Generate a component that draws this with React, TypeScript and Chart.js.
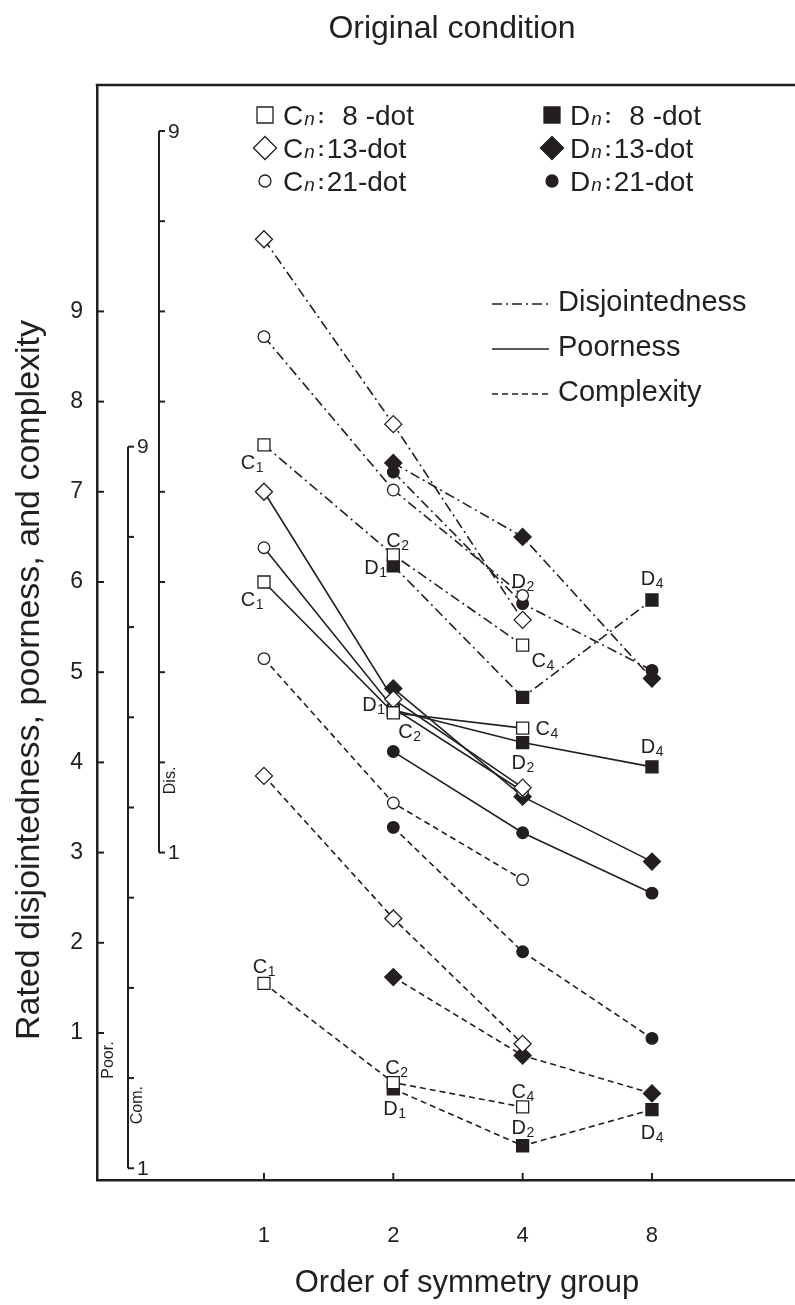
import React, { useEffect, useRef } from 'react';
import { Chart, registerables } from 'chart.js';

Chart.register(...registerables);

const INK = '#231f20';
const FONT = '"Liberation Sans", Arial, Helvetica, sans-serif';

// Categories (order of symmetry group)
const groupLabels = ['1', '2', '4', '8'];
const cGroupIdx = [0, 1, 2]; // C1, C2, C4
const dGroupIdx = [1, 2, 3]; // D1, D2, D4
const yTickValues = [1, 2, 3, 4, 5, 6, 7, 8, 9];

// Disjointedness (plotted on main axis units)
const disC8 = [7.52, 6.3, 5.3];
const disC13 = [9.8, 7.75, 5.58];
const disC21 = [8.72, 7.02, 5.85];
const disD8 = [6.18, 4.72, 5.8];
const disD13 = [7.32, 6.5, 4.93];
const disD21 = [7.22, 5.76, 5.02];

// Poorness
const poorC8 = [6.0, 4.55, 4.38];
const poorC13 = [7.0, 4.7, 3.72];
const poorC21 = [6.38, 4.6, 3.68];
const poorD8 = [4.58, 4.22, 3.95];
const poorD13 = [4.82, 3.62, 2.9];
const poorD21 = [4.12, 3.22, 2.55];

// Complexity
const comC8 = [1.55, 0.45, 0.18];
const comC13 = [3.85, 2.27, 0.88];
const comC21 = [5.15, 3.55, 2.7];
const comD8 = [0.38, -0.25, 0.15];
const comD13 = [1.62, 0.75, 0.33];
const comD21 = [3.28, 1.9, 0.94];

type Shape = 'square' | 'diamond' | 'circle';
interface Series { key: string; measure: 'dis' | 'poor' | 'com'; family: 'C' | 'D'; shape: Shape; values: number[] }

const seriesList: Series[] = [
  { key: 'disC8', measure: 'dis', family: 'C', shape: 'square', values: disC8 },
  { key: 'disC13', measure: 'dis', family: 'C', shape: 'diamond', values: disC13 },
  { key: 'disC21', measure: 'dis', family: 'C', shape: 'circle', values: disC21 },
  { key: 'disD8', measure: 'dis', family: 'D', shape: 'square', values: disD8 },
  { key: 'disD13', measure: 'dis', family: 'D', shape: 'diamond', values: disD13 },
  { key: 'disD21', measure: 'dis', family: 'D', shape: 'circle', values: disD21 },
  { key: 'poorC8', measure: 'poor', family: 'C', shape: 'square', values: poorC8 },
  { key: 'poorC13', measure: 'poor', family: 'C', shape: 'diamond', values: poorC13 },
  { key: 'poorC21', measure: 'poor', family: 'C', shape: 'circle', values: poorC21 },
  { key: 'poorD8', measure: 'poor', family: 'D', shape: 'square', values: poorD8 },
  { key: 'poorD13', measure: 'poor', family: 'D', shape: 'diamond', values: poorD13 },
  { key: 'poorD21', measure: 'poor', family: 'D', shape: 'circle', values: poorD21 },
  { key: 'comC8', measure: 'com', family: 'C', shape: 'square', values: comC8 },
  { key: 'comC13', measure: 'com', family: 'C', shape: 'diamond', values: comC13 },
  { key: 'comC21', measure: 'com', family: 'C', shape: 'circle', values: comC21 },
  { key: 'comD8', measure: 'com', family: 'D', shape: 'square', values: comD8 },
  { key: 'comD13', measure: 'com', family: 'D', shape: 'diamond', values: comD13 },
  { key: 'comD21', measure: 'com', family: 'D', shape: 'circle', values: comD21 },
];

const dashFor: Record<string, number[]> = { dis: [10, 4, 2, 4], poor: [], com: [6, 4] };
const pointStyleFor: Record<Shape, string> = { square: 'rect', diamond: 'rectRot', circle: 'circle' };
const radiusFor: Record<Shape, number> = { square: 8.5, diamond: 8.5, circle: 5.8 };

// Group labels attached to points (series key, point index, letter, subscript, offset)
const pointLabels = [
  { series: 'disC8', i: 0, t: 'C', s: '1', dx: -12, dy: 17 },
  { series: 'disC8', i: 1, t: 'C', s: '2', dx: 4, dy: -15 },
  { series: 'disD8', i: 0, t: 'D', s: '1', dx: -18, dy: 1 },
  { series: 'disC21', i: 2, t: 'D', s: '2', dx: 0, dy: -15 },
  { series: 'disC8', i: 2, t: 'C', s: '4', dx: 20, dy: 15 },
  { series: 'disD8', i: 2, t: 'D', s: '4', dx: 0, dy: -22 },
  { series: 'poorC8', i: 0, t: 'C', s: '1', dx: -12, dy: 17 },
  { series: 'poorD8', i: 0, t: 'D', s: '1', dx: -20, dy: -6 },
  { series: 'poorC8', i: 1, t: 'C', s: '2', dx: 16, dy: 18 },
  { series: 'poorC8', i: 2, t: 'C', s: '4', dx: 24, dy: 0 },
  { series: 'poorD8', i: 1, t: 'D', s: '2', dx: 0, dy: 19 },
  { series: 'poorD8', i: 2, t: 'D', s: '4', dx: 0, dy: -21 },
  { series: 'comC8', i: 0, t: 'C', s: '1', dx: 0, dy: -17 },
  { series: 'comC8', i: 1, t: 'C', s: '2', dx: 3, dy: -16 },
  { series: 'comD8', i: 0, t: 'D', s: '1', dx: 1, dy: 19 },
  { series: 'comC8', i: 2, t: 'C', s: '4', dx: 0, dy: -16 },
  { series: 'comD8', i: 1, t: 'D', s: '2', dx: 0, dy: -19 },
  { series: 'comD8', i: 2, t: 'D', s: '4', dx: 0, dy: 22 },
];

const markerLegend = [
  { family: 'C', shape: 'square' as Shape, num: '8' },
  { family: 'C', shape: 'diamond' as Shape, num: '13' },
  { family: 'C', shape: 'circle' as Shape, num: '21' },
  { family: 'D', shape: 'square' as Shape, num: '8' },
  { family: 'D', shape: 'diamond' as Shape, num: '13' },
  { family: 'D', shape: 'circle' as Shape, num: '21' },
];
const lineLegend = [
  { measure: 'dis', label: 'Disjointedness' },
  { measure: 'poor', label: 'Poorness' },
  { measure: 'com', label: 'Complexity' },
];

function seriesX(s: Series) {
  return s.family === 'C' ? cGroupIdx : dGroupIdx;
}

function drawMarker(ctx: CanvasRenderingContext2D, shape: Shape, filled: boolean, x: number, y: number, size: number) {
  ctx.save();
  ctx.beginPath();
  if (shape === 'square') {
    ctx.rect(x - size / 2, y - size / 2, size, size);
  } else if (shape === 'diamond') {
    const r = size * 0.68;
    ctx.moveTo(x, y - r); ctx.lineTo(x + r, y); ctx.lineTo(x, y + r); ctx.lineTo(x - r, y); ctx.closePath();
  } else {
    ctx.arc(x, y, size * 0.4, 0, Math.PI * 2);
  }
  ctx.fillStyle = filled ? INK : '#fff';
  ctx.fill();
  ctx.lineWidth = 1.3;
  ctx.strokeStyle = INK;
  ctx.stroke();
  ctx.restore();
}

function drawSubLabel(ctx: CanvasRenderingContext2D, t: string, s: string, cx: number, cy: number) {
  ctx.save();
  ctx.fillStyle = INK;
  ctx.textBaseline = 'alphabetic';
  ctx.textAlign = 'left';
  ctx.font = `20px ${FONT}`;
  const wt = ctx.measureText(t).width;
  ctx.font = `14px ${FONT}`;
  const ws = ctx.measureText(s).width;
  const x0 = cx - (wt + ws) / 2;
  ctx.font = `20px ${FONT}`;
  ctx.fillText(t, x0, cy + 7);
  ctx.font = `14px ${FONT}`;
  ctx.fillText(s, x0 + wt + 0.5, cy + 10);
  ctx.restore();
}

const decorPlugin = {
  id: 'decor',
  afterDraw(chart: any) {
    const ctx: CanvasRenderingContext2D = chart.ctx;
    const area = chart.chartArea;
    const xs = chart.scales.x;
    const ys = chart.scales.y;
    ctx.save();
    ctx.strokeStyle = INK;
    ctx.fillStyle = INK;

    // top frame line
    ctx.lineWidth = 2.5;
    ctx.beginPath();
    ctx.moveTo(area.left - 1.25, area.top);
    ctx.lineTo(area.right, area.top);
    ctx.stroke();

    // inner ticks on main y axis
    ctx.lineWidth = 2;
    yTickValues.forEach((v) => {
      const py = ys.getPixelForValue(v);
      ctx.beginPath();
      ctx.moveTo(area.left, py);
      ctx.lineTo(area.left + 7, py);
      ctx.stroke();
    });
    // inner ticks on x axis
    [0, 1, 2, 3].forEach((v) => {
      const px = xs.getPixelForValue(v);
      ctx.beginPath();
      ctx.moveTo(px, area.bottom);
      ctx.lineTo(px, area.bottom - 7);
      ctx.stroke();
    });

    // secondary axes: Dis. (1..9 -> main 3..11), Poor./Com. (1..9 -> main -0.5..7.5)
    const subAxes = [
      { x: area.left + 62, from: 3 },
      { x: area.left + 31, from: -0.5 },
    ];
    ctx.lineWidth = 2;
    subAxes.forEach((a) => {
      const y1 = ys.getPixelForValue(a.from);
      const y9 = ys.getPixelForValue(a.from + 8);
      ctx.beginPath();
      ctx.moveTo(a.x, y1);
      ctx.lineTo(a.x, y9);
      ctx.stroke();
      for (let k = 0; k <= 8; k++) {
        const py = ys.getPixelForValue(a.from + k);
        ctx.beginPath();
        ctx.moveTo(a.x, py);
        ctx.lineTo(a.x + 6, py);
        ctx.stroke();
      }
      ctx.font = `21px ${FONT}`;
      ctx.textAlign = 'left';
      ctx.textBaseline = 'middle';
      ctx.fillText('9', a.x + 9, y9 + 1);
      ctx.fillText('1', a.x + 9, y1 + 1);
    });
    // rotated sub-axis names
    const rotLabel = (text: string, x: number, y: number) => {
      ctx.save();
      ctx.translate(x, y);
      ctx.rotate(-Math.PI / 2);
      ctx.font = `16px ${FONT}`;
      ctx.textAlign = 'center';
      ctx.textBaseline = 'middle';
      ctx.fillText(text, 0, 0);
      ctx.restore();
    };
    rotLabel('Dis.', area.left + 74, ys.getPixelForValue(3.8));
    rotLabel('Poor.', area.left + 12, ys.getPixelForValue(0.7));
    rotLabel('Com.', area.left + 41, ys.getPixelForValue(0.2));

    // point labels
    const byKey: Record<string, Series> = {};
    seriesList.forEach((s) => (byKey[s.key] = s));
    pointLabels.forEach((l) => {
      const s = byKey[l.series];
      const px = xs.getPixelForValue(seriesX(s)[l.i]);
      const py = ys.getPixelForValue(s.values[l.i]);
      drawSubLabel(ctx, l.t, l.s, px + l.dx, py + l.dy);
    });

    // marker legend
    markerLegend.forEach((m, idx) => {
      const col = m.family === 'C' ? 0 : 1;
      const row = idx % 3;
      const cy = 115 + row * 33;
      const mx = col === 0 ? 265 : 552;
      const tx = col === 0 ? 283 : 570;
      const size = m.shape === 'diamond' ? 17 : m.shape === 'square' ? 16 : 15;
      drawMarker(ctx, m.shape, m.family === 'D', mx, cy, size);
      ctx.textAlign = 'left';
      ctx.textBaseline = 'alphabetic';
      ctx.font = `28px ${FONT}`;
      ctx.fillText(m.family, tx, cy + 10);
      const wf = ctx.measureText(m.family).width;
      ctx.font = `italic 19px ${FONT}`;
      ctx.fillText('n', tx + wf + 1, cy + 10);
      const wn = ctx.measureText('n').width;
      ctx.font = `bold 20px ${FONT}`;
      const cx = tx + wf + 1 + wn + 3;
      ctx.fillText(':', cx, cy + 8);
      ctx.font = `28px ${FONT}`;
      const w1 = ctx.measureText('1').width;
      const nx = cx + 9;
      if (m.num === '8') {
        ctx.fillText('8 -dot', nx + w1, cy + 10);
      } else {
        ctx.fillText(m.num + '-dot', nx, cy + 10);
      }
    });

    // line legend
    lineLegend.forEach((l, idx) => {
      const cy = 303 + idx * 45;
      ctx.save();
      ctx.lineWidth = 1.6;
      ctx.setLineDash(dashFor[l.measure]);
      ctx.beginPath();
      ctx.moveTo(492, cy + 1);
      ctx.lineTo(549, cy + 1);
      ctx.stroke();
      ctx.restore();
      ctx.font = `29px ${FONT}`;
      ctx.textAlign = 'left';
      ctx.textBaseline = 'middle';
      ctx.fillText(l.label, 558, cy);
    });

    // titles
    ctx.font = `32px ${FONT}`;
    ctx.textAlign = 'center';
    ctx.textBaseline = 'alphabetic';
    ctx.fillText('Original condition', 452, 38);
    ctx.font = `31px ${FONT}`;
    ctx.fillText('Order of symmetry group', 467, 1292);
    ctx.save();
    ctx.translate(30, 680);
    ctx.rotate(-Math.PI / 2);
    ctx.font = `34px ${FONT}`;
    ctx.textBaseline = 'middle';
    ctx.fillText('Rated disjointedness, poorness, and complexity', 0, 0);
    ctx.restore();

    ctx.restore();
  },
};

export default function App() {
  const ref = useRef<HTMLCanvasElement | null>(null);
  useEffect(() => {
    document.body.style.margin = '0';
    const canvas = ref.current;
    if (!canvas) return;
    const lineSets = seriesList.map((s) => ({
      data: s.values.map((v, i) => ({ x: seriesX(s)[i], y: v })),
      borderColor: INK,
      borderWidth: 1.6,
      borderDash: dashFor[s.measure],
      pointRadius: 0,
      fill: false,
      tension: 0,
      order: 2,
    }));
    const pointSets = seriesList.map((s) => ({
      data: s.values.map((v, i) => ({ x: seriesX(s)[i], y: v })),
      showLine: false,
      pointStyle: pointStyleFor[s.shape],
      pointRadius: radiusFor[s.shape],
      pointBackgroundColor: s.family === 'C' ? '#ffffff' : INK,
      pointBorderColor: INK,
      pointBorderWidth: 1.3,
      order: 1,
    }));
    const chart = new Chart(canvas, {
      type: 'line',
      data: { datasets: [...lineSets, ...pointSets] as any },
      options: {
        animation: false,
        responsive: false,
        devicePixelRatio: 1,
        events: [],
        layout: { autoPadding: false, padding: { top: 85, right: 0, left: 0, bottom: 0 } },
        plugins: { legend: { display: false }, tooltip: { enabled: false }, title: { display: false } },
        scales: {
          x: {
            type: 'linear',
            min: -1.291,
            max: 4.106,
            afterBuildTicks: (s: any) => { s.ticks = [0, 1, 2, 3].map((v) => ({ value: v })); },
            afterFit: (s: any) => { s.height = 125; s.paddingLeft = 0; s.paddingRight = 0; },
            grid: { display: false, drawTicks: false },
            border: { display: true, color: INK, width: 2.5 },
            ticks: {
              color: INK,
              font: { family: FONT, size: 22 },
              padding: 43,
              autoSkip: false,
              maxRotation: 0,
              callback: (v: any) => groupLabels[v as number] ?? '',
            },
          },
          y: {
            type: 'linear',
            min: -0.63,
            max: 11.51,
            afterBuildTicks: (s: any) => { s.ticks = yTickValues.map((v) => ({ value: v })); },
            afterFit: (s: any) => { s.width = 97; s.paddingTop = 0; s.paddingBottom = 0; },
            grid: { display: false, drawTicks: false },
            border: { display: true, color: INK, width: 2.5 },
            ticks: {
              color: INK,
              font: { family: FONT, size: 23 },
              padding: 14,
              autoSkip: false,
              callback: (v: any) => String(v),
            },
          },
        },
      },
      plugins: [decorPlugin],
    });
    return () => chart.destroy();
  }, []);
  return (
    <div style={{ width: 795, height: 1305, background: '#fff' }}>
      <canvas ref={ref} width={795} height={1305} style={{ display: 'block' }} />
    </div>
  );
}
